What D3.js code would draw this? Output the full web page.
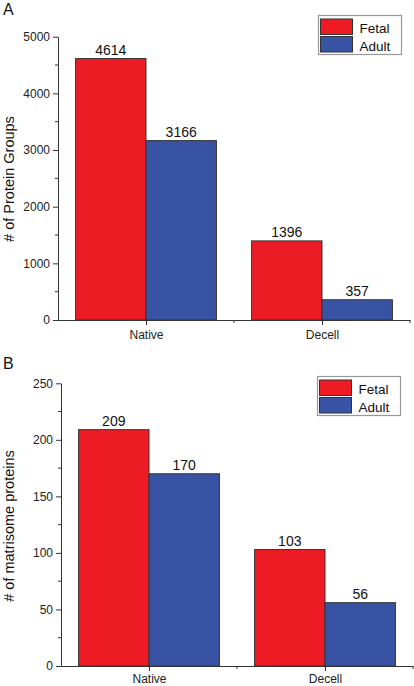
<!DOCTYPE html>
<html>
<head>
<meta charset="utf-8">
<script src="https://cdn.jsdelivr.net/npm/d3@7"></script>
<style>
  html, body { margin: 0; padding: 0; background: #fff; }
  svg { display: block; font-family: "Liberation Sans", Arial, sans-serif; }
</style>
</head>
<body>
<svg id="chart" width="414" height="686"></svg>
<script>
// ---- data ----
const categories = ["Native", "Decell"];
const seriesNames = ["Fetal", "Adult"];
const seriesColors = ["#ED1C24", "#3953A4"];

const groupsFetal = [4614, 1396];
const groupsAdult = [3166, 357];
const groupsTicks = [0, 1000, 2000, 3000, 4000, 5000];

const matrisomeFetal = [209, 103];
const matrisomeAdult = [170, 56];
const matrisomeTicks = [0, 50, 100, 150, 200, 250];

// ---- layout ----
const svg = d3.select("#chart");

function panel(opts) {
  const g = svg.append("g");
  const x = d3.scaleLinear().domain([0.5, 2.5]).range([opts.x0, opts.x1]);
  const y = d3.scaleLinear().domain([0, opts.yMax]).range([opts.yBottom, opts.yTop]);
  const barW = 0.4;
  const data = [opts.fetal, opts.adult];

  // bars
  data.forEach((vals, si) => {
    g.selectAll(null).data(vals).enter().append("rect")
      .attr("x", (d, i) => si === 0 ? x(i + 1 - barW) : x(i + 1))
      .attr("width", x(barW) - x(0))
      .attr("y", d => y(d))
      .attr("height", d => y(0) - y(d))
      .attr("fill", seriesColors[si])
      .attr("stroke", "#333")
      .attr("stroke-width", 1);
    g.selectAll(null).data(vals).enter().append("text")
      .attr("x", (d, i) => x(i + 1 + (si === 0 ? -barW / 2 : barW / 2)))
      .attr("y", d => y(d) - 4)
      .attr("text-anchor", "middle")
      .attr("font-size", "14px")
      .attr("fill", "#111")
      .text(d => d);
  });

  // y axis
  const yAxis = d3.axisLeft(y).tickValues(opts.yTicks).tickFormat(d3.format("d"))
    .tickSize(5).tickPadding(3).tickSizeOuter(0);
  const ya = g.append("g").attr("transform", `translate(${opts.x0},0)`).call(yAxis);
  ya.select(".domain").attr("stroke", "#333");
  ya.selectAll(".tick line").attr("stroke", "#333");
  ya.selectAll(".tick text").attr("font-size", "12px").attr("fill", "#222").attr("font-family", "Liberation Sans, Arial, sans-serif");
  // minor y ticks
  const step = opts.yTicks[1] - opts.yTicks[0];
  const minors = opts.yTicks.slice(0, -1).map(t => t + step / 2);
  g.selectAll(null).data(minors).enter().append("line")
    .attr("x1", opts.x0 - 3).attr("x2", opts.x0)
    .attr("y1", d => y(d)).attr("y2", d => y(d))
    .attr("stroke", "#333");

  // x axis
  const xAxis = d3.axisBottom(x).tickValues([1, 2]).tickFormat((d, i) => categories[i])
    .tickSize(5).tickPadding(opts.xPad).tickSizeOuter(0);
  const xa = g.append("g").attr("transform", `translate(0,${opts.yBottom})`).call(xAxis);
  xa.select(".domain").attr("stroke", "#333");
  xa.selectAll(".tick line").attr("stroke", "#333");
  xa.selectAll(".tick text").attr("font-size", "12px").attr("fill", "#222").attr("font-family", "Liberation Sans, Arial, sans-serif");
  g.selectAll(null).data([1.5, 2.5]).enter().append("line")
    .attr("x1", d => x(d)).attr("x2", d => x(d))
    .attr("y1", opts.yBottom).attr("y2", opts.yBottom + 3)
    .attr("stroke", "#333");

  // y title
  g.append("text")
    .attr("transform", `translate(${opts.titleX},${opts.titleY}) rotate(-90)`)
    .attr("text-anchor", "middle")
    .attr("font-size", "14.5px")
    .attr("fill", "#111")
    .text(opts.yTitle);

  // panel letter
  g.append("text")
    .attr("x", 3).attr("y", opts.letterY)
    .attr("font-size", "16px")
    .attr("fill", "#111")
    .text(opts.letter);

  // legend
  const lg = g.append("g").attr("transform", `translate(${opts.legX},${opts.legY})`);
  lg.append("rect").attr("x", 0).attr("y", 0).attr("width", 83).attr("height", 39)
    .attr("fill", "#fff").attr("stroke", "#999").attr("stroke-width", 1.2);
  seriesNames.forEach((name, i) => {
    lg.append("rect").attr("x", 2).attr("y", 3.5 + i * 17.5).attr("width", 32).attr("height", 15.5)
      .attr("fill", seriesColors[i]).attr("stroke", "#333").attr("stroke-width", 1);
    lg.append("text").attr("x", 41).attr("y", 17 + i * 18.5)
      .attr("font-size", "13.5px").attr("fill", "#111").text(name);
  });
}

panel({
  letter: "A", letterY: 15,
  x0: 58, x1: 410, yTop: 36.7, yBottom: 320, yMax: 5000, xPad: 5,
  yTicks: groupsTicks, fetal: groupsFetal, adult: groupsAdult,
  yTitle: "# of Protein Groups", titleX: 14, titleY: 179,
  legX: 318.5, legY: 15.5
});

panel({
  letter: "B", letterY: 369,
  x0: 61, x1: 413, yTop: 383.3, yBottom: 666, yMax: 250, xPad: 3,
  yTicks: matrisomeTicks, fetal: matrisomeFetal, adult: matrisomeAdult,
  yTitle: "# of matrisome proteins", titleX: 14, titleY: 526,
  legX: 317.5, legY: 376.5
});
</script>
</body>
</html>
